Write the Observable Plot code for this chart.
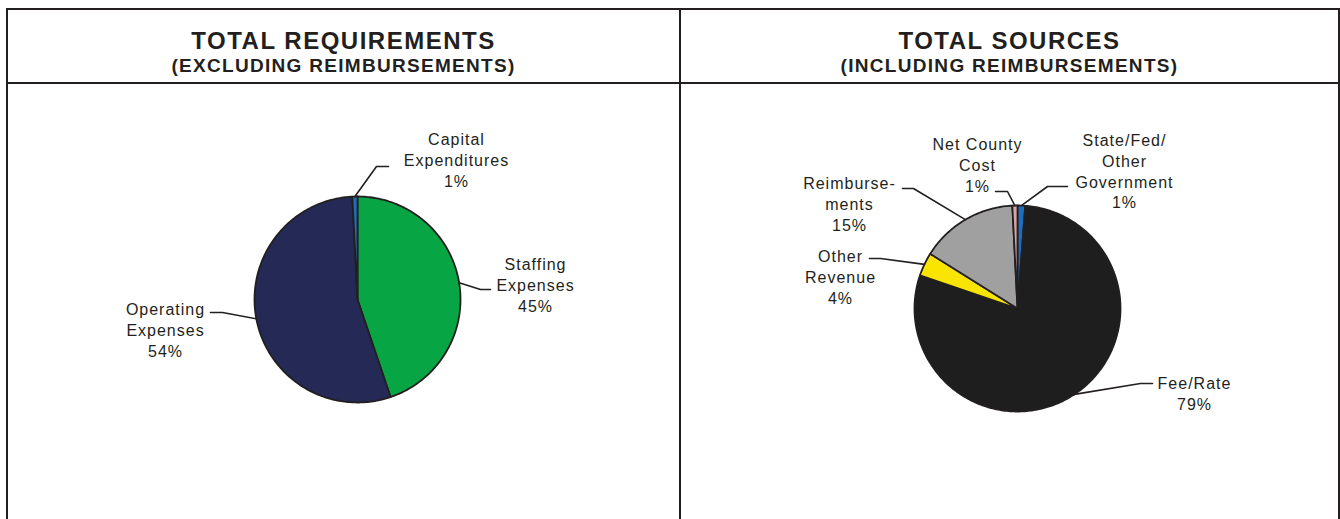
<!DOCTYPE html>
<html><head><meta charset="utf-8">
<script src="https://cdn.jsdelivr.net/npm/d3@7"></script>
<script src="https://cdn.jsdelivr.net/npm/@observablehq/plot@0.6"></script>
<style>
body{margin:0;background:#fff;}
#wrap{position:relative;width:1340px;height:519px;overflow:hidden;font-family:"Liberation Sans",Arial,sans-serif;color:#231f20;}
.rule{position:absolute;background:#231f20;}
.title{position:absolute;text-align:center;font-weight:bold;white-space:nowrap;}
.t1{font-size:24px;line-height:24px;letter-spacing:1.5px;top:28.7px;}
.t2{font-size:19px;line-height:19px;letter-spacing:1.3px;top:56.4px;}
.panel{position:absolute;top:84px;}
.panel svg{max-width:none;}
</style></head>
<body><div id="wrap"></div>
<script>
// ---------- data ----------
const reqTitle = "TOTAL REQUIREMENTS";
const reqSubtitle = "(EXCLUDING REIMBURSEMENTS)";
const reqCategories = ["Staffing\nExpenses", "Operating\nExpenses", "Capital\nExpenditures"];
const reqValues = [44.8, 54.4, 0.8];

const srcTitle = "TOTAL SOURCES";
const srcSubtitle = "(INCLUDING REIMBURSEMENTS)";
const srcCategories = ["State/Fed/\nOther\nGovernment", "Fee/Rate", "Other\nRevenue", "Reimburse-\nments", "Net County\nCost"];
const srcValues = [1.2, 79.0, 3.7, 15.3, 0.8];

// ---------- styles ----------
const reqColors = ["#07a544", "#242955", "#1f6dbd"];
const srcColors = ["#1f6dbd", "#1e1e1e", "#f9e500", "#a0a0a0", "#dca3a3"];
const ink = "#231f20";
const R = 103;

// label layout (pixel offsets from pie centre, y downward): text centre, leader elbow, leader end x
const reqLayout = [
  {text: [178, -15], elbow: [123, -10], endX: 133},
  {text: [-192, 30], elbow: [-135, 13], endX: -147},
  {text: [99, -140], elbow: [19, -133], endX: 31}
];
const srcLayout = [
  {text: [107, -138], elbow: [30, -122], endX: 50},
  {text: [177, 84.5], elbow: [123, 75], endX: 135},
  {text: [-177, -32], elbow: [-137, -50], endX: -148},
  {text: [-168, -105], elbow: [-104, -120], endX: -115},
  {text: [-40, -144], elbow: [-10, -117], endX: -22}
];

const wrap = document.getElementById("wrap");
function rule(l, t, w, h) {
  const d = document.createElement("div");
  d.className = "rule";
  Object.assign(d.style, {left: l + "px", top: t + "px", width: w + "px", height: h + "px"});
  wrap.appendChild(d);
}
rule(6, 8, 1334, 2);
rule(6, 82, 1334, 2);
rule(6, 8, 2, 511);
rule(679, 8, 2, 511);
rule(1338, 8, 2, 511);

function titles(left, width, t, s) {
  for (const [cls, txt] of [["t1", t], ["t2", s]]) {
    const d = document.createElement("div");
    d.className = "title " + cls;
    d.style.left = left + "px";
    d.style.width = width + "px";
    d.textContent = txt;
    wrap.appendChild(d);
  }
}
titles(8, 671, reqTitle, reqSubtitle);
titles(681, 657, srcTitle, srcSubtitle);

function pieChart(cats, vals, colors, layout, {width, height, cx, cy}) {
  const total = d3.sum(vals);
  const arcs = d3.pie().sort(null).value(d => d)(vals);
  const slices = [], leaders = [], labels = [];
  arcs.forEach((p, i) => {
    const n = Math.max(2, Math.ceil((p.endAngle - p.startAngle) / (Math.PI / 180)));
    slices.push({k: i, x: 0, y: 0, c: colors[i]});
    for (let j = 0; j <= n; j++) {
      const a = p.startAngle + (p.endAngle - p.startAngle) * j / n;
      slices.push({k: i, x: R * Math.sin(a), y: -R * Math.cos(a), c: colors[i]});
    }
    slices.push({k: i, x: 0, y: 0, c: colors[i]});
    const m = (p.startAngle + p.endAngle) / 2;
    const L = layout[i];
    leaders.push({k: i, x: R * Math.sin(m), y: -R * Math.cos(m)});
    leaders.push({k: i, x: L.elbow[0], y: L.elbow[1]});
    leaders.push({k: i, x: L.endX, y: L.elbow[1]});
    labels.push({x: L.text[0], y: L.text[1], t: cats[i] + "\n" + d3.format(".0%")(vals[i] / total)});
  });
  return Plot.plot({
    width, height, margin: 0,
    x: {domain: [-cx, width - cx], range: [0, width], axis: null},
    y: {domain: [-cy, height - cy], range: [0, height], axis: null},
    color: {type: "identity"},
    style: {fontFamily: '"Liberation Sans", Arial, sans-serif', fontSize: "16px", letterSpacing: "1px", background: "transparent", overflow: "visible", color: ink},
    marks: [
      Plot.line(slices, {x: "x", y: "y", z: "k", fill: "c", stroke: ink, strokeWidth: 1.8, strokeLinejoin: "round", curve: "linear"}),
      Plot.line(leaders, {x: "x", y: "y", z: "k", stroke: ink, strokeWidth: 1.6, strokeLinejoin: "miter"}),
      Plot.text(labels, {x: "x", y: "y", text: "t", fontSize: 16, lineHeight: 1.3, fill: ink, textAnchor: "middle"})
    ]
  });
}

function panel(left, width, node) {
  const d = document.createElement("div");
  d.className = "panel";
  d.style.left = left + "px";
  d.style.width = width + "px";
  d.appendChild(node);
  wrap.appendChild(d);
}
panel(8, 671, pieChart(reqCategories, reqValues, reqColors, reqLayout, {width: 671, height: 435, cx: 349, cy: 215}));
panel(681, 657, pieChart(srcCategories, srcValues, srcColors, srcLayout, {width: 657, height: 435, cx: 336, cy: 224}));
</script>
</body></html>
